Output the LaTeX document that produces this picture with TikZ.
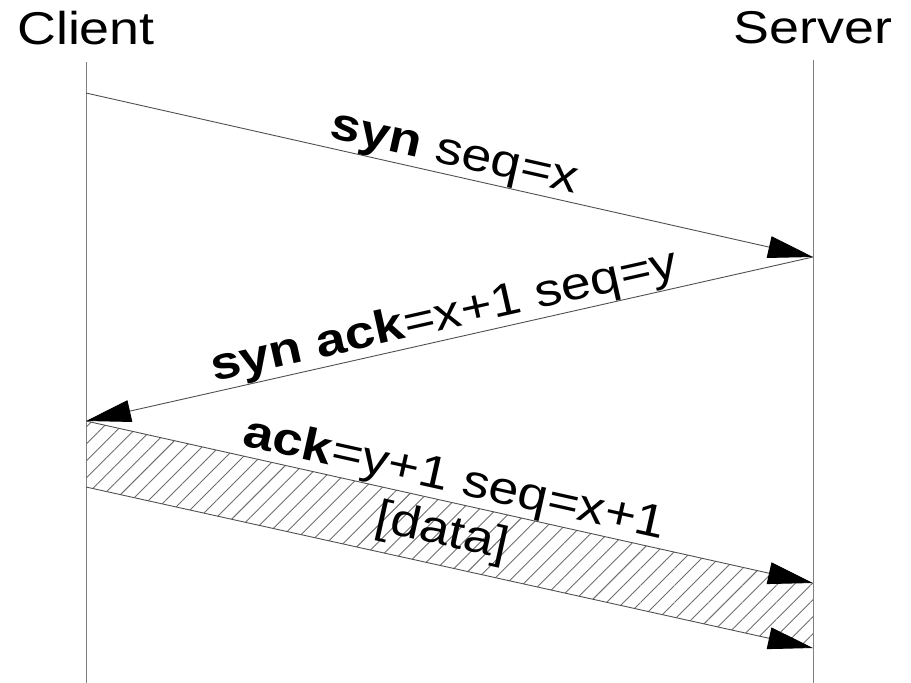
\documentclass[tikz,border=0pt]{standalone}
\usepackage{fontspec}
\setmainfont[FakeStretch=1.17]{Liberation Sans}
\usetikzlibrary{arrows.meta, patterns.meta, calc}
\definecolor{linie}{RGB}{80,80,80}
\definecolor{schraffur}{RGB}{110,110,110}

\begin{document}
\begin{tikzpicture}[x=1pt, y=-1pt, >={Triangle[length=45pt,width=22pt,color=black]},
    every node/.style={font=\fontsize{46}{50}\selectfont},
    msg/.style={draw=linie, line width=0.9pt},
    lifeline/.style={draw=gray, line width=0.8pt},
    lbl/.style={sloped, anchor=south, inner sep=0pt}]

  \useasboundingbox (0,0) rectangle (911,683);

  \node (client) at (86,28) {Client};
  \node (server) at (813,28) {Server};

  % lifelines
  \coordinate (c0) at (86,62);   \coordinate (c9) at (86,683);
  \coordinate (s0) at (813,60);  \coordinate (s9) at (813,683);
  \draw[lifeline] (c0) -- (c9);
  \draw[lifeline] (s0) -- (s9);

  % handshake points
  \coordinate (c1) at (86,93);
  \coordinate (s1) at (813,257);
  \coordinate (c2) at (86,421);
  \coordinate (c3) at (86,487);
  \coordinate (s2) at (813,583);
  \coordinate (s3) at (813,648);

  \fill[pattern={Lines[angle=45,distance=12pt,line width=0.9pt]}, pattern color=schraffur]
    (c2) -- (s2) -- (s3) -- (c3) -- cycle;

  \draw[msg,->] (c1) -- node[lbl] {\textbf{syn} seq=x} (s1);
  \draw[msg,<-] (c2) -- node[lbl, pos=0.5] {\textbf{syn ack}=x+1 seq=y} (s1);
  \draw[msg,->] (c2) -- node[lbl] {\textbf{ack}=y+1 seq=x+1} (s2);
  \draw[msg,->] (c3) -- (s3);
  \path ($(c2)!0.5!(c3)$) -- node[sloped, pos=0.49] {[data]} ($(s2)!0.5!(s3)$);

\end{tikzpicture}
\end{document}
